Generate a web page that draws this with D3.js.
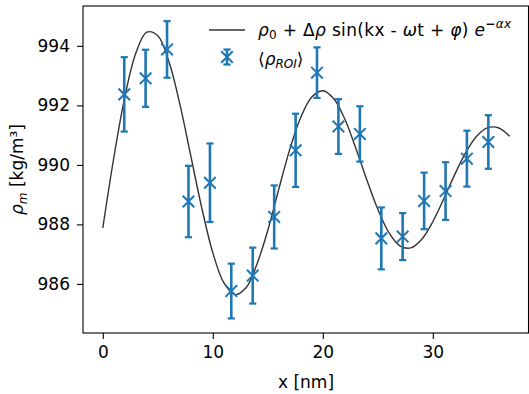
<!DOCTYPE html>
<html>
<head>
<meta charset="utf-8">
<script src="https://cdn.jsdelivr.net/npm/d3@7"></script>
<style>
  html, body { margin: 0; padding: 0; background: #fff; }
  svg { display: block; font-family: "DejaVu Sans", sans-serif; }
</style>
</head>
<body>
<svg id="chart" width="529" height="394"></svg>
<script>
// ==========================================================================
// DATA
// ==========================================================================

// ROI mean density samples
const roiX = [1.95, 3.89, 5.84, 7.79, 9.74, 11.68, 13.63, 15.58, 17.53,
              19.47, 21.42, 23.37, 25.32, 27.26, 29.21, 31.16, 33.10, 35.05];
const roiMean = [992.37, 992.91, 993.88, 988.77, 989.40, 985.76, 986.28, 988.25, 990.49,
                 993.10, 991.29, 991.04, 987.53, 987.59, 988.79, 989.12, 990.21, 990.77];
const roiErr = [1.25, 0.96, 0.95, 1.20, 1.32, 0.92, 0.94, 1.06, 1.23,
                0.85, 0.92, 0.93, 1.04, 0.79, 0.95, 0.97, 0.94, 0.90];

// fitted damped wave, sampled from the drawn curve
const fitX = [0, 1, 2, 3, 4, 5, 6, 7, 8, 9, 10, 11, 12, 13, 14, 15, 16, 17, 18, 19,
              20, 21, 22, 23, 24, 25, 26, 27, 28, 29, 30, 31, 32, 33, 34, 35, 36, 37];
const fitY = [987.88, 990.24, 992.28, 993.75, 994.46, 994.34, 993.48, 992.05, 990.30, 988.55,
              987.05, 986.04, 985.64, 985.86, 986.65, 987.80, 989.19, 990.52, 991.60, 992.28,
              992.49, 992.22, 991.54, 990.56, 989.50, 988.51, 987.73, 987.28, 987.21, 987.50,
              988.09, 988.86, 989.68, 990.42, 990.97, 991.25, 991.24, 990.96];

const xTicks = [0, 10, 20, 30];
const yTicks = [986, 988, 990, 992, 994];

// ==========================================================================
// LAYOUT
// ==========================================================================

const frame = { left: 83, right: 528.5, top: 6, bottom: 333 };
const BLUE = '#1f77b4';
const FONT = 17;

const svg = d3.select('#chart');

const x = d3.scaleLinear().domain([-1.8, 38.7]).range([frame.left, frame.right]);
const y = d3.scaleLinear().domain([984.35, 995.34]).range([frame.bottom, frame.top]);

// Axes
const xAxis = svg.append('g')
    .attr('transform', `translate(0,${frame.bottom})`)
    .call(d3.axisBottom(x).tickValues(xTicks).tickSize(6).tickPadding(7).tickFormat(d3.format('d')));
const yAxis = svg.append('g')
    .attr('transform', `translate(${frame.left},0)`)
    .call(d3.axisLeft(y).tickValues(yTicks).tickSize(6).tickPadding(7).tickFormat(d3.format('d')));

[xAxis, yAxis].forEach(a => {
    a.select('.domain').remove();
    a.selectAll('.tick line').attr('stroke', '#000').attr('stroke-width', 1.1);
    a.selectAll('.tick text')
        .attr('fill', '#000')
        .style('font-family', '"DejaVu Sans", sans-serif')
        .style('font-size', FONT + 'px');
});

// Fit curve
const line = d3.line()
    .x((d, i) => x(fitX[i]))
    .y(d => y(d))
    .curve(d3.curveCatmullRom.alpha(0.5));

svg.append('path')
    .datum(fitY)
    .attr('d', line)
    .attr('fill', 'none')
    .attr('stroke', '#333')
    .attr('stroke-width', 1.4);

// Error bars + markers
function drawErrBar(g, cx, cy, top, bot, cap, m) {
    g.append('line').attr('x1', cx).attr('x2', cx).attr('y1', top).attr('y2', bot)
        .attr('stroke', BLUE).attr('stroke-width', 2.6);
    [top, bot].forEach(v => g.append('line')
        .attr('x1', cx - cap).attr('x2', cx + cap).attr('y1', v).attr('y2', v)
        .attr('stroke', BLUE).attr('stroke-width', 2.2));
    g.append('path')
        .attr('d', `M${cx - m},${cy - m}L${cx + m},${cy + m}M${cx - m},${cy + m}L${cx + m},${cy - m}`)
        .attr('stroke', BLUE).attr('stroke-width', 2);
}

const pts = svg.append('g');
roiX.forEach((xv, i) => {
    drawErrBar(pts, x(xv), y(roiMean[i]),
        y(roiMean[i] + roiErr[i]), y(roiMean[i] - roiErr[i]), 3.6, 5.8);
});

// Frame
svg.append('rect')
    .attr('x', frame.left).attr('y', frame.top)
    .attr('width', frame.right - frame.left).attr('height', frame.bottom - frame.top)
    .attr('fill', 'none').attr('stroke', '#000').attr('stroke-width', 1.1);

// Axis labels
svg.append('text')
    .attr('x', (frame.left + 529) / 2).attr('y', 388)
    .attr('text-anchor', 'middle').style('font-size', FONT + 'px')
    .text('x [nm]');

const yl = svg.append('text')
    .attr('transform', `translate(23,${(frame.top + frame.bottom) / 2}) rotate(-90)`)
    .attr('text-anchor', 'middle').style('font-size', FONT + 'px');
yl.append('tspan').style('font-style', 'italic').text('ρ');
yl.append('tspan').style('font-style', 'italic').style('font-size', '12px').attr('dy', 4).text('m');
yl.append('tspan').attr('dy', -4).text(' [kg/m³]');

// Legend
const lg = svg.append('g');
lg.append('line').attr('x1', 209).attr('x2', 245).attr('y1', 30).attr('y2', 30)
    .attr('stroke', '#333').attr('stroke-width', 1.4);
const t1 = lg.append('text').attr('x', 258).attr('y', 36)
    .attr('textLength', 253).attr('lengthAdjust', 'spacing')
    .style('font-size', FONT + 'px');
t1.append('tspan').style('font-style', 'italic').text('ρ');
t1.append('tspan').style('font-size', '12px').attr('dy', 3).text('0');
t1.append('tspan').attr('dy', -3).text(' + Δ');
t1.append('tspan').style('font-style', 'italic').text('ρ');
t1.append('tspan').text(' sin(kx - ');
t1.append('tspan').style('font-style', 'italic').text('ω');
t1.append('tspan').text('t + ');
t1.append('tspan').style('font-style', 'italic').text('φ');
t1.append('tspan').text(') ');
t1.append('tspan').style('font-style', 'italic').text('e');
t1.append('tspan').style('font-size', '12px').style('font-weight', 'bold').attr('dy', -8).text('−');
t1.append('tspan').style('font-size', '12px').style('font-style', 'italic').text('αx');

drawErrBar(lg, 227, 57, 49.5, 64.5, 3.6, 5.8);
const t2 = lg.append('text').attr('x', 258).attr('y', 65).style('font-size', FONT + 'px');
t2.append('tspan').text('⟨');
t2.append('tspan').style('font-style', 'italic').text('ρ');
t2.append('tspan').style('font-style', 'italic').style('font-size', '12px').attr('dy', 3).text('ROI');
t2.append('tspan').attr('dy', -3).text('⟩');
</script>
</body>
</html>
